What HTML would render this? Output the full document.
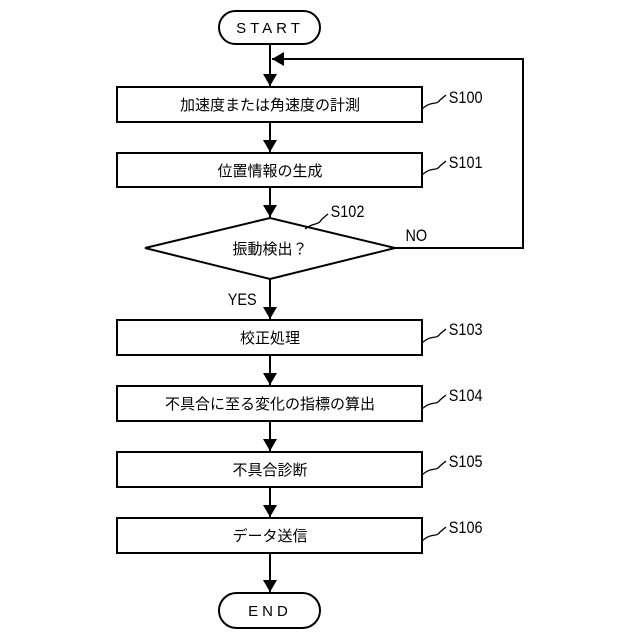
<!DOCTYPE html>
<html><head><meta charset="utf-8"><style>
html,body{margin:0;padding:0;background:#fff}
svg{display:block}
text{font-family:"Liberation Sans","Noto Sans CJK JP",sans-serif;fill:#000}
</style></head><body>
<svg width="640" height="640" viewBox="0 0 640 640" xmlns="http://www.w3.org/2000/svg">
<defs><marker id="a" markerWidth="10" markerHeight="10" refX="9" refY="5" orient="auto" markerUnits="userSpaceOnUse"><path d="M0,0 L10,5 L0,10 z" fill="#000"/></marker>
<marker id="b" markerWidth="12" markerHeight="14" refX="12" refY="7" orient="auto" markerUnits="userSpaceOnUse"><path d="M0,0 L12,7 L0,14 z" fill="#000"/></marker></defs>
<g stroke="#000" stroke-width="2" fill="none">
<rect x="219" y="11" width="101" height="33" rx="16.5"/>
<rect x="219" y="593" width="101" height="35" rx="17.5"/>
<rect x="117" y="87" width="305" height="35"/>
<rect x="117" y="153" width="305" height="34"/>
<polygon points="145,248 270,218 395,248 270,279"/>
<rect x="117" y="320" width="305" height="35"/>
<rect x="117" y="386" width="305" height="35"/>
<rect x="117" y="452" width="305" height="35"/>
<rect x="117" y="518" width="305" height="35"/>
<line x1="270" y1="44" x2="270" y2="86" marker-end="url(#b)"/>
<line x1="270" y1="122" x2="270" y2="152" marker-end="url(#b)"/>
<line x1="270" y1="187" x2="270" y2="217" marker-end="url(#b)"/>
<line x1="270" y1="279" x2="270" y2="319" marker-end="url(#b)"/>
<line x1="270" y1="355" x2="270" y2="385" marker-end="url(#b)"/>
<line x1="270" y1="421" x2="270" y2="451" marker-end="url(#b)"/>
<line x1="270" y1="487" x2="270" y2="517" marker-end="url(#b)"/>
<line x1="270" y1="553" x2="270" y2="592" marker-end="url(#b)"/>
<polyline points="395,248 523,248 523,59 272,59" marker-end="url(#b)"/>
<g stroke-width="1.3">
<path d="M422,109 C432,100 436,106 440,100 L446,95"/>
<path d="M422,175 C432,166 436,172 440,166 L446,161"/>
<path d="M305,229 C314,222 318,226 322,219 L328,214"/>
<path d="M422,343 C432,334 436,340 440,334 L446,329"/>
<path d="M422,409 C432,400 436,406 440,400 L446,395"/>
<path d="M422,475 C432,466 436,472 440,466 L446,461"/>
<path d="M422,541 C432,532 436,538 440,532 L446,527"/>
</g>
</g>
<g font-size="15" text-anchor="middle">
<text x="270" y="33" letter-spacing="4">START</text>
<text x="270" y="616" letter-spacing="4">END</text>
<text x="270" y="110">加速度または角速度の計測</text>
<text x="270" y="176">位置情報の生成</text>
<text x="270" y="254">振動検出？</text>
<text x="270" y="343">校正処理</text>
<text x="270" y="409">不具合に至る変化の指標の算出</text>
<text x="270" y="475">不具合診断</text>
<text x="270" y="541">データ送信</text>
</g>
<g font-size="17" transform="scale(0.85,1)">
<text x="528" y="103">S100</text>
<text x="528" y="168">S101</text>
<text x="389" y="217">S102</text>
<text x="477" y="241">NO</text>
<text x="268" y="305">YES</text>
<text x="528" y="335">S103</text>
<text x="528" y="401">S104</text>
<text x="528" y="467">S105</text>
<text x="528" y="533">S106</text>
</g>
</svg>
</body></html>
